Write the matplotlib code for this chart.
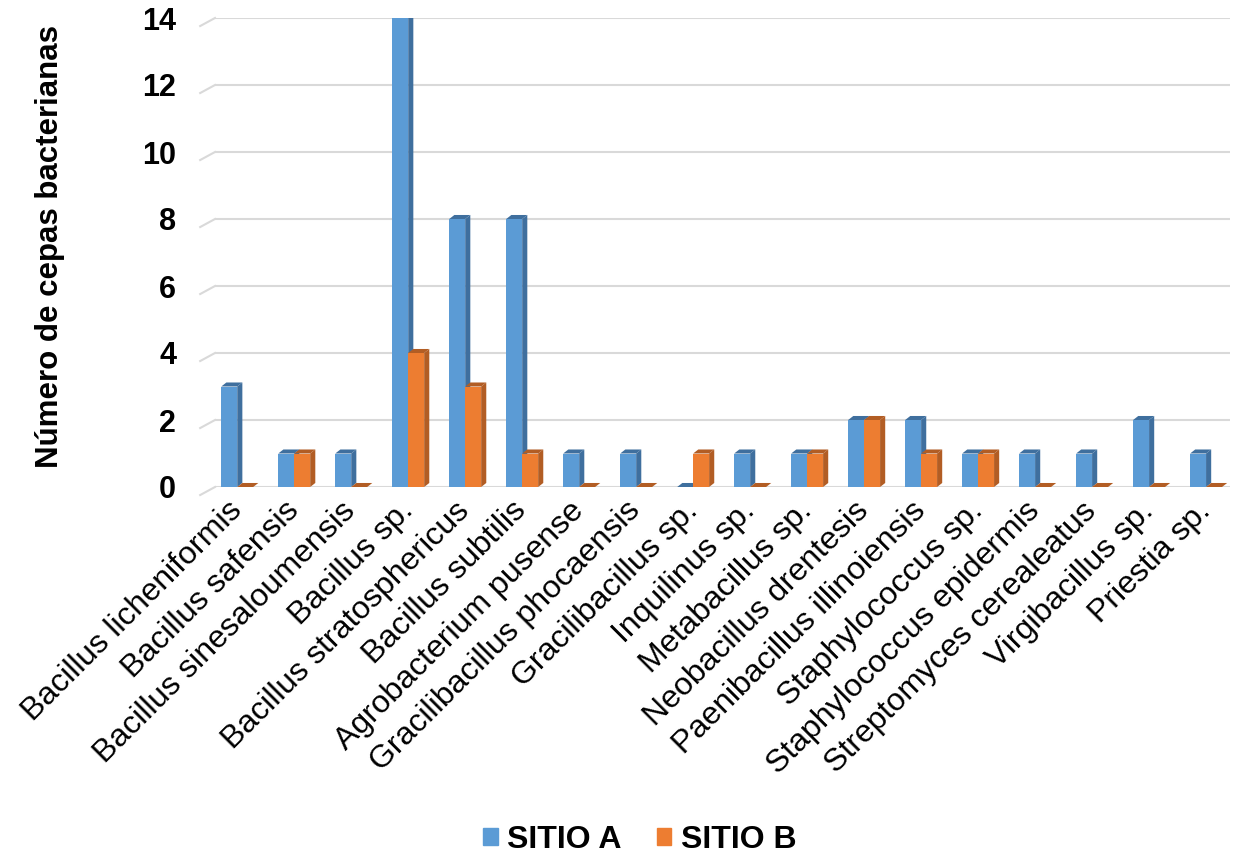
import matplotlib
matplotlib.use("Agg")
import matplotlib.pyplot as plt
from matplotlib.patches import Polygon, Patch

plt.rcParams['font.family'] = ['Liberation Sans', 'DejaVu Sans']

especies = [
    "Bacillus licheniformis", "Bacillus safensis", "Bacillus sinesaloumensis",
    "Bacillus sp.", "Bacillus stratosphericus", "Bacillus subtilis",
    "Agrobacterium pusense", "Gracilibacillus phocaensis", "Gracilibacillus sp.",
    "Inquilinus sp.", "Metabacillus sp.", "Neobacillus drentesis",
    "Paenibacillus illinoiensis", "Staphylococcus sp.", "Staphylococcus epidermis",
    "Streptomyces cerealeatus", "Virgibacillus sp.", "Priestia sp.",
]
sitio_a = [3, 1, 1, 14, 8, 8, 1, 1, 0, 1, 1, 2, 2, 1, 1, 1, 2, 1]
sitio_b = [0, 1, 0, 4, 3, 1, 0, 0, 1, 0, 1, 2, 1, 1, 0, 0, 0, 0]

azul, azul_osc = "#5b9bd5", "#3f6f9e"
naranja, naranja_osc = "#ed7d31", "#b25d24"

fig = plt.figure(figsize=(12.44, 8.61), dpi=100)
ax = fig.add_axes([215 / 1244, 1 - 487 / 861, 1015 / 1244, 469 / 861])

w = 0.28      # ancho de la cara frontal
dx = 0.09     # profundidad en x
dy = 0.12     # profundidad en y


def barra_3d(x0, h, color, lado):
    ax.bar(x0, h, w, align="edge", color=color, edgecolor="none", zorder=3)
    ax.add_patch(Polygon([(x0 + w, 0), (x0 + w + dx, dy), (x0 + w + dx, h + dy), (x0 + w, h)],
                         closed=True, facecolor=lado, edgecolor="none", zorder=3))
    ax.add_patch(Polygon([(x0, h), (x0 + dx, h + dy), (x0 + w + dx, h + dy), (x0 + w, h)],
                         closed=True, facecolor=lado, edgecolor="none", zorder=3))


for i, (a, b) in enumerate(zip(sitio_a, sitio_b)):
    barra_3d(i - w, a, azul, azul_osc)
    barra_3d(i, b, naranja, naranja_osc)

ax.set_xlim(-0.39, 17.42)
ax.set_ylim(0, 14)
ax.set_yticks(range(0, 15, 2))
ax.yaxis.grid(True, color="#d9d9d9", linewidth=1.5, zorder=0)
ax.set_axisbelow(True)
for s in ax.spines.values():
    s.set_visible(False)

# pared lateral en perspectiva
for v in range(0, 15, 2):
    ax.plot([-0.39 - 0.26, -0.39], [v - 0.24, v], color="#d9d9d9",
            linewidth=1.5, clip_on=False, zorder=0)

ax.tick_params(axis="y", length=0, pad=28, labelsize=22)
for t in ax.get_yticklabels():
    t.set_fontweight("bold")

ax.set_xticks(range(len(especies)))
ax.set_xticklabels(especies, rotation=45, ha="right", va="center",
                   rotation_mode="anchor", fontsize=23)
ax.tick_params(axis="x", length=0, pad=14)

fig.text(50 / 1244, 1 - 247 / 861, "Número de cepas bacterianas", rotation=90,
         ha="center", va="center", fontsize=22.5, fontweight="bold")

handles = [Patch(color=azul, label="SITIO A"), Patch(color=naranja, label="SITIO B")]
fig.legend(handles=handles, loc="center", bbox_to_anchor=(640 / 1244, 1 - 840 / 861),
           ncol=2, frameon=False, prop={"size": 23, "weight": "bold"},
           handlelength=0.45, handleheight=0.45, handletextpad=0.3, columnspacing=1.1)

fig.savefig("out.png", dpi=100)
